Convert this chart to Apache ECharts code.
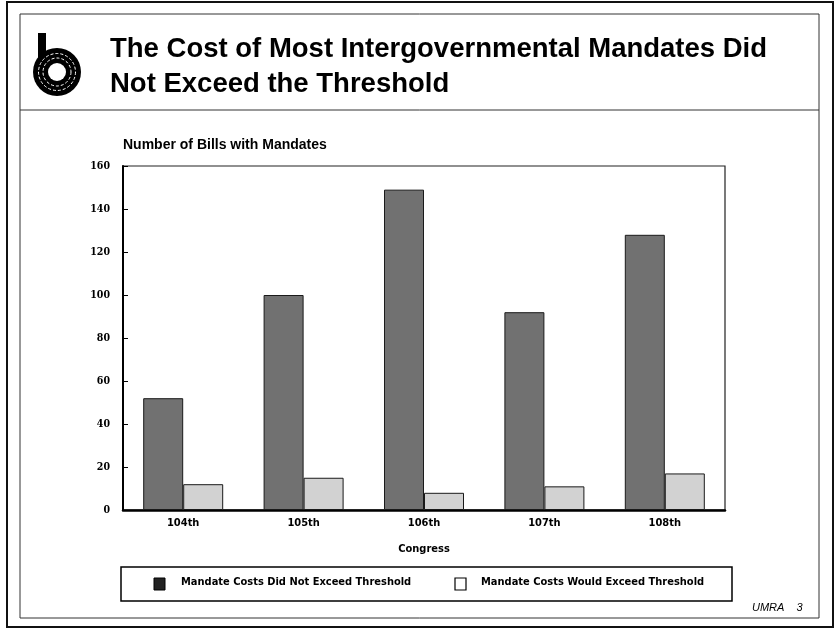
<!DOCTYPE html>
<html>
<head>
<meta charset="utf-8">
<script src="https://cdn.jsdelivr.net/npm/echarts@6/dist/echarts.min.js"></script>
<style>
  html, body { margin: 0; padding: 0; background: #fff; }
  #chart { width: 837px; height: 630px; }
</style>
</head>
<body>
<div id="chart"></div>
<script>
// Bills with intergovernmental mandates, by Congress
const congresses = ['104th', '105th', '106th', '107th', '108th'];
const notExceed = [52, 100, 149, 92, 128];
const wouldExceed = [12, 15, 8, 11, 17];
const yTicks = [0, 20, 40, 60, 80, 100, 120, 140, 160];

const titleLines = ['The Cost of Most Intergovernmental Mandates Did', 'Not Exceed the Threshold'];
const seriesNames = ['Mandate Costs Did Not Exceed Threshold', 'Mandate Costs Would Exceed Threshold'];

const condensed = '"DejaVu Sans Condensed", "DejaVu Sans", sans-serif';
const serifBold = '"DejaVu Serif Condensed", "DejaVu Serif", serif';
const helv = '"Liberation Sans", Arial, sans-serif';

const chart = echarts.init(document.getElementById('chart'), null, { renderer: 'canvas' });

const option = {
  backgroundColor: '#ffffff',
  animation: false,
  grid: {
    left: 123, right: 112, top: 166, bottom: 120,
    show: true, borderColor: '#222', borderWidth: 1.2, backgroundColor: 'transparent'
  },
  xAxis: {
    type: 'category',
    data: congresses,
    name: 'Congress',
    nameLocation: 'middle',
    nameGap: 34,
    nameTextStyle: { fontFamily: condensed, fontWeight: 'bold', fontSize: 11, color: '#000' },
    axisLine: { lineStyle: { color: '#000', width: 2.5 } },
    axisTick: { show: false },
    axisLabel: { fontFamily: condensed, fontWeight: 'bold', fontSize: 11, color: '#000', margin: 8 }
  },
  yAxis: {
    type: 'value',
    min: yTicks[0],
    max: yTicks[yTicks.length - 1],
    interval: 20,
    splitLine: { show: false },
    axisLine: { show: true, lineStyle: { color: '#000', width: 2 } },
    axisTick: { show: true, inside: true, length: 5, lineStyle: { color: '#000', width: 1 } },
    axisLabel: { fontFamily: serifBold, fontWeight: 'bold', fontSize: 10.5, color: '#000', margin: 13 }
  },
  series: [
    {
      name: seriesNames[0],
      type: 'bar',
      data: notExceed,
      barWidth: 40,
      barGap: '0%',
      itemStyle: { color: '#717171', borderColor: '#1a1a1a', borderWidth: 1 }
    },
    {
      name: seriesNames[1],
      type: 'bar',
      data: wouldExceed,
      barWidth: 40,
      itemStyle: { color: '#d2d2d2', borderColor: '#1a1a1a', borderWidth: 1 }
    }
  ],
  graphic: [
    // outer and inner frames
    { type: 'rect', shape: { x: 7, y: 2, width: 826, height: 625 }, style: { fill: 'none', stroke: '#111', lineWidth: 2 }, silent: true, z: 0 },
    { type: 'rect', shape: { x: 20, y: 14, width: 799, height: 604 }, style: { fill: 'none', stroke: '#333', lineWidth: 1 }, silent: true, z: 0 },
    { type: 'line', shape: { x1: 20, y1: 110, x2: 819, y2: 110 }, style: { stroke: '#333', lineWidth: 1 }, silent: true },
    // agency logo: stem plus concentric rings
    { type: 'rect', shape: { x: 38, y: 33, width: 8, height: 40 }, style: { fill: '#000' }, silent: true },
    { type: 'circle', shape: { cx: 57, cy: 72, r: 24 }, style: { fill: '#000' }, silent: true },
    { type: 'circle', shape: { cx: 57, cy: 72, r: 18.5 }, style: { fill: 'none', stroke: '#fff', lineWidth: 1, lineDash: [3, 2] }, silent: true },
    { type: 'circle', shape: { cx: 57, cy: 72, r: 14 }, style: { fill: 'none', stroke: '#fff', lineWidth: 1, lineDash: [3, 2] }, silent: true },
    { type: 'circle', shape: { cx: 57, cy: 72, r: 9 }, style: { fill: '#fff' }, silent: true },
    // title
    { type: 'text', left: 110, top: 35, style: { text: titleLines[0], fontFamily: helv, fontWeight: 'bold', fontSize: 27.5, fill: '#000' }, silent: true },
    { type: 'text', left: 110, top: 70, style: { text: titleLines[1], fontFamily: helv, fontWeight: 'bold', fontSize: 27.5, fill: '#000' }, silent: true },
    // axis title
    { type: 'text', left: 123, top: 138, style: { text: 'Number of Bills with Mandates', fontFamily: helv, fontWeight: 'bold', fontSize: 14, fill: '#000' }, silent: true },
    // legend box
    { type: 'rect', shape: { x: 121, y: 567, width: 611, height: 34 }, style: { fill: 'none', stroke: '#000', lineWidth: 1.5 }, silent: true },
    { type: 'rect', shape: { x: 154, y: 578, width: 11, height: 12 }, style: { fill: '#222', stroke: '#000', lineWidth: 1 }, silent: true },
    { type: 'text', left: 181, top: 577, style: { text: seriesNames[0], fontFamily: condensed, fontWeight: 'bold', fontSize: 11, fill: '#000' }, silent: true },
    { type: 'rect', shape: { x: 455, y: 578, width: 11, height: 12 }, style: { fill: '#fff', stroke: '#000', lineWidth: 1.2 }, silent: true },
    { type: 'text', left: 481, top: 577, style: { text: seriesNames[1], fontFamily: condensed, fontWeight: 'bold', fontSize: 11, fill: '#000' }, silent: true },
    // footer
    { type: 'text', left: 752, top: 602, style: { text: 'UMRA    3', fontFamily: helv, fontStyle: 'italic', fontSize: 11, fill: '#000' }, silent: true }
  ]
};

chart.setOption(option);
</script>
</body>
</html>
